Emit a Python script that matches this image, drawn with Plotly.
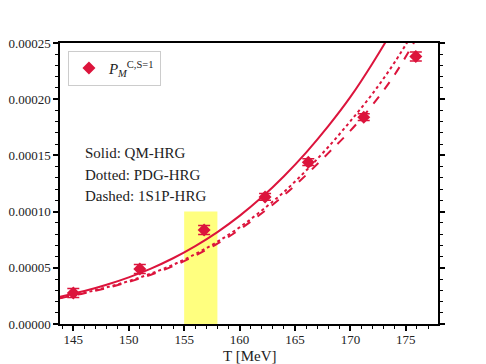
import plotly.graph_objects as go

# Lattice data points
T_data = [145.0, 151.0, 156.8, 162.3, 166.2, 171.2, 175.9]
P_data = [2.76e-5, 4.89e-5, 8.36e-5, 1.13e-4, 1.44e-4, 1.84e-4, 2.38e-4]
P_err = [4.0e-6, 4.0e-6, 4.0e-6, 3.0e-6, 3.0e-6, 3.0e-6, 4.0e-6]

# HRG curves
T_curve = [143.8, 146, 148, 150, 152, 154, 156, 158, 160, 162, 164, 166, 168, 170, 172, 174, 176]
P_qm = [2.43e-5, 2.93e-5, 3.49e-5, 4.15e-5, 4.93e-5, 5.85e-5, 6.93e-5, 8.18e-5, 9.62e-5,
        1.127e-4, 1.315e-4, 1.525e-4, 1.76e-4, 2.02e-4, 2.32e-4, 2.65e-4, 3.02e-4]
P_pdg = [2.33e-5, 2.78e-5, 3.26e-5, 3.82e-5, 4.48e-5, 5.27e-5, 6.22e-5, 7.32e-5, 8.60e-5,
         1.01e-4, 1.175e-4, 1.365e-4, 1.575e-4, 1.805e-4, 2.05e-4, 2.33e-4, 2.65e-4]
P_1s1p = [2.30e-5, 2.74e-5, 3.20e-5, 3.74e-5, 4.38e-5, 5.15e-5, 6.08e-5, 7.15e-5, 8.40e-5,
          9.85e-5, 1.145e-4, 1.325e-4, 1.52e-4, 1.72e-4, 1.95e-4, 2.22e-4, 2.55e-4]

# Highlighted band (T range, height)
band_T = [155.0, 158.0]
band_P = [0.0, 1.0e-4]

x_ticks = [145, 150, 155, 160, 165, 170, 175]
y_ticks = [0, 0.00005, 0.0001, 0.00015, 0.0002, 0.00025]
y_ticklabels = ["0.00000", "0.00005", "0.00010", "0.00015", "0.00020", "0.00025"]

notes = ["Solid: QM-HRG", "Dotted: PDG-HRG", "Dashed: 1S1P-HRG"]
x_title = "T [MeV]"

red = "#DC143C"
serif = "Liberation Serif"
tickfont = dict(family=serif, size=13, color="#222222")

fig = go.Figure()

fig.add_shape(type="rect", xref="x", yref="y", x0=band_T[0], x1=band_T[1],
              y0=band_P[0], y1=band_P[1], fillcolor="rgba(255,255,0,0.5)",
              line=dict(width=0), layer="below")

fig.add_trace(go.Scatter(x=T_curve, y=P_qm, mode="lines", line=dict(color=red, width=2, shape="spline"),
                         showlegend=False, hoverinfo="skip"))
fig.add_trace(go.Scatter(x=T_curve, y=P_pdg, mode="lines", line=dict(color=red, width=2, dash="dot", shape="spline"),
                         showlegend=False, hoverinfo="skip"))
fig.add_trace(go.Scatter(x=T_curve, y=P_1s1p, mode="lines", line=dict(color=red, width=2, dash="dash", shape="spline"),
                         showlegend=False, hoverinfo="skip"))

fig.add_trace(go.Scatter(
    x=T_data, y=P_data, mode="markers",
    marker=dict(symbol="diamond", size=10, color=red),
    error_y=dict(type="data", array=P_err, color=red, thickness=1.5, width=6),
    name="<i>P</i><sub><i>M</i></sub><sup>C,S=1</sup>",
    showlegend=True))

for i, t in enumerate(notes):
    fig.add_annotation(x=0.061, y=0.608 - i * 0.076, xref="paper", yref="paper", text=t,
                       showarrow=False, xanchor="left", yanchor="middle",
                       font=dict(family=serif, size=15, color="#222222"))

fig.add_annotation(x=0.5, y=-0.113, xref="paper", yref="paper", text=x_title,
                   showarrow=False, xanchor="center", yanchor="middle",
                   font=dict(family=serif, size=15, color="#222222"))

fig.update_layout(
    width=486, height=364, autosize=False,
    margin=dict(l=60, r=48, t=43, b=40, pad=0),
    plot_bgcolor="white", paper_bgcolor="white",
    font=dict(family=serif, size=14, color="#222222"),
    showlegend=True,
    legend=dict(x=0.021, y=0.972, xanchor="left", yanchor="top",
                bordercolor="#cccccc", borderwidth=1, bgcolor="white",
                font=dict(family=serif, size=15, color="#222222")),
    xaxis=dict(range=[143.8, 177.9], tickvals=x_ticks,
               automargin=False, tickfont=tickfont, ticklabelstandoff=-2,
               showgrid=False, zeroline=False, showline=True, linecolor="black", linewidth=1.5,
               mirror=True, ticks="outside", ticklen=5, tickwidth=1.5, tickcolor="black",
               minor=dict(dtick=1, tick0=145, ticks="outside", ticklen=3, tickwidth=1.2, tickcolor="black")),
    yaxis=dict(range=[0, 0.00025], tickvals=y_ticks, ticktext=y_ticklabels,
               automargin=False, tickfont=tickfont,
               showgrid=False, zeroline=False, showline=True, linecolor="black", linewidth=1.5,
               mirror="ticks", ticks="outside", ticklen=5, tickwidth=1.5, tickcolor="black",
               minor=dict(dtick=0.00001, ticks="outside", ticklen=3, tickwidth=1.2, tickcolor="black")),
)

fig.write_html("out.html", config={"displayModeBar": False},
               post_script="document.body.style.margin='0';")
